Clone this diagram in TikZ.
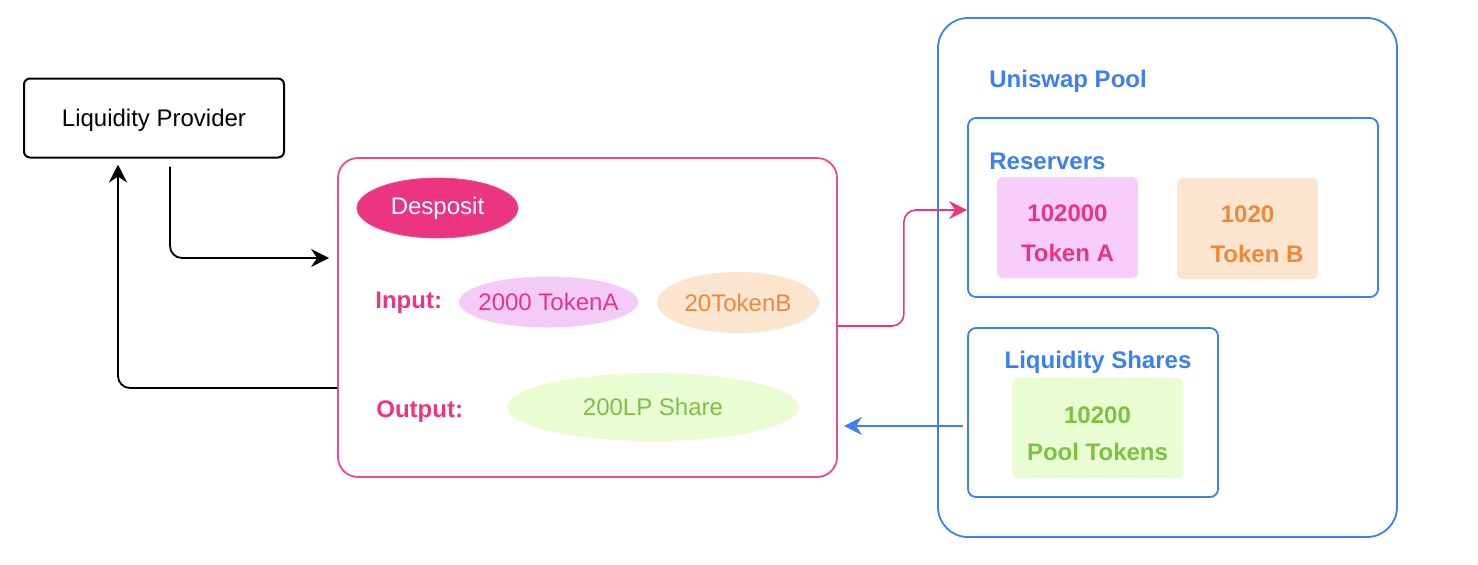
\documentclass[tikz,border=0pt]{standalone}
\usepackage{fontspec}
\setmainfont{Liberation Sans}
\usepackage{tikz}
\usetikzlibrary{arrows.meta,shapes.geometric}
\definecolor{deppink}{HTML}{EB3580}
\definecolor{deppinkline}{HTML}{EA4D8E}
\definecolor{pillpink}{HTML}{F2CCF6}
\definecolor{boxpink}{HTML}{F7CEFB}
\definecolor{lightorange}{HTML}{FBE5CE}
\definecolor{tokorange}{HTML}{EF883A}
\definecolor{lightgreen}{HTML}{EAFCD2}
\definecolor{leafgreen}{HTML}{7CC342}
\definecolor{poolblue}{HTML}{3B80EE}
\newcommand{\toprise}{\rule{0pt}{14pt}}

\begin{document}
\begin{tikzpicture}[x=0.5pt, y=-0.5pt,
		every node/.style={font=\fontsize{12}{14}\selectfont},
		lpbox/.style={draw, line width=1pt, rounded corners=3pt, minimum width=130pt, minimum height=39.5pt},
		panel/.style={draw, line width=0.9pt, inner sep=0pt},
		pill/.style={ellipse, inner xsep=-8pt, inner ysep=0pt},
		boldlabel/.style={font=\bfseries\fontsize{12}{14}\selectfont, inner xsep=0pt},
		tokenbox/.style={rounded corners=3pt, minimum width=70.5pt, minimum height=50.5pt, align=center, font=\bfseries\fontsize{12}{20}\selectfont},
		flow/.style={-{Stealth[length=9pt,width=9pt,inset=3pt]}, line width=0.9pt, rounded corners=6pt}]
	\useasboundingbox (0,0) rectangle (1478,564);

	\node[lpbox] (lp) at (154,118) {\rule{0pt}{10.5pt}Liquidity Provider};

	\node[panel, draw=deppinkline, rounded corners=10pt, minimum width=249.5pt, minimum height=159.5pt] (dep) at (587.5,317.5) {};
	\node[pill, fill=deppink, draw=deppinkline, text=white, minimum width=80.5pt, minimum height=30pt] (desposit) at (437.5,208) {Desposit};
	\node[boldlabel, text=deppink, anchor=west] (input) at (375,302.5) {Input:};
	\node[pill, fill=pillpink, text=deppink, minimum width=89.5pt, minimum height=25.5pt] (ina) at (548.5,302) {2000 TokenA};
	\node[pill, fill=lightorange, text=tokorange, minimum width=81pt, minimum height=30.5pt] (inb) at (738,302.5) {20TokenB};
	\node[boldlabel, text=deppink, anchor=west] (output) at (376,412) {Output:};
	\node[pill, fill=lightgreen, text=leafgreen, minimum width=146pt, minimum height=34pt] (lpshare) at (653,407) {200LP Share};

	\node[panel, draw=poolblue, rounded corners=15pt, minimum width=229.5pt, minimum height=259.5pt] (pool) at (1167.5,277.5) {};
	\node[boldlabel, text=poolblue, anchor=west] (pooltitle) at (989,81) {Uniswap Pool};
	\node[panel, draw=poolblue, rounded corners=4pt, minimum width=205pt, minimum height=89.5pt] (res) at (1173,207.5) {};
	\node[boldlabel, text=poolblue, anchor=west] (restitle) at (989,161.5) {Reservers};
	\node[tokenbox, fill=boxpink, text=deppink] (tka) at (1067.5,227.5) {\toprise 102000\\Token A};
	\node[tokenbox, fill=lightorange, text=tokorange] (tkb) at (1247.5,228.5) {\toprise 1020\\\hspace*{9.5pt}Token B};
	\node[panel, draw=poolblue, rounded corners=4pt, minimum width=125pt, minimum height=84.5pt] (shares) at (1093,412.5) {};
	\node[boldlabel, text=poolblue] (sharestitle) at (1098,362) {Liquidity Shares};
	\node[tokenbox, fill=lightgreen, text=leafgreen, minimum width=85.5pt, minimum height=50pt, font=\bfseries\fontsize{12}{18.5}\selectfont] (lptok) at (1097.5,428) {\toprise 10200\\Pool Tokens};

	\coordinate (shout) at ([xshift=-2pt,yshift=-6.75pt]shares.west);
	\coordinate (depback) at ([xshift=3pt,yshift=-54.5pt]dep.east);

	\draw[flow] ([xshift=8pt,yshift=-4pt]lp.south) |- ([xshift=-4pt,yshift=29.75pt]dep.west);
	\draw[flow] ([yshift=-35.25pt]dep.west) -| ([xshift=-18pt,yshift=-3pt]lp.south);
	\draw[flow, deppink, line width=0.8pt] ([yshift=-4.25pt]dep.east) -- ++(33pt,0) |- ([yshift=-1.25pt]res.west);
	\draw[flow, poolblue, line width=1pt] (shout) -- (shout -| depback);
\end{tikzpicture}
\end{document}
